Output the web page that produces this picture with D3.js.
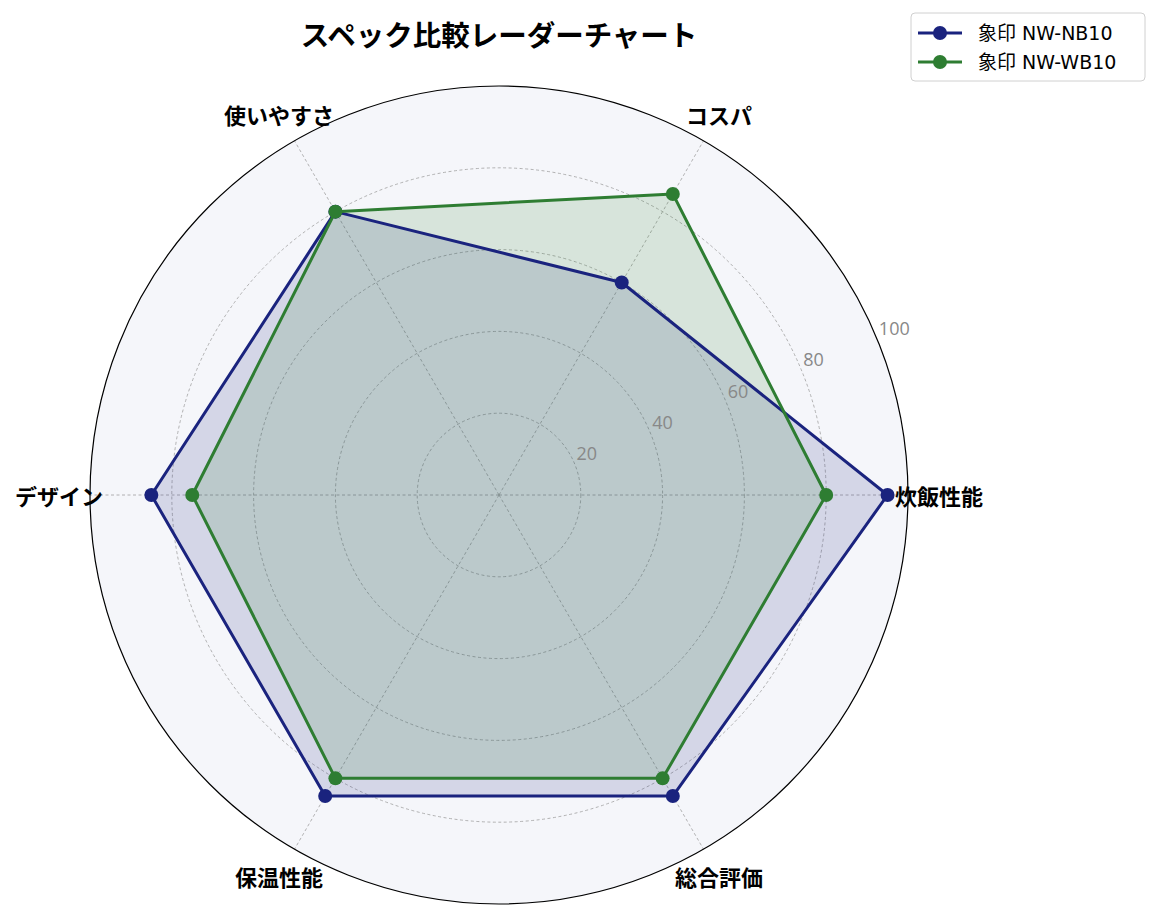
<!DOCTYPE html>
<html>
<head>
<meta charset="UTF-8">
<title>スペック比較レーダーチャート</title>
<script src="https://cdn.jsdelivr.net/npm/d3@7"></script>
<style>
  body { margin: 0; background: #ffffff; }
  text { font-family: "Noto Sans CJK JP", "Noto Sans", sans-serif; }
</style>
</head>
<body>
<svg id="chart" width="1159" height="920"></svg>
<script>
// categories, counter-clockwise from the right
var categories = ["炊飯性能", "コスパ", "使いやすさ", "デザイン", "保温性能", "総合評価"];
var seriesNames = ["象印 NW-NB10", "象印 NW-WB10"];
var nb10Values = [95, 60, 80, 85, 85, 85];
var wb10Values = [80, 85, 80, 75, 80, 80];
var seriesColors = ["#1a237e", "#2e7d32"];
var radialTicks = [20, 40, 60, 80, 100];

var svg = d3.select("#chart");
var cx = 499, cy = 495, radius = 409;

var r = d3.scaleLinear().domain([0, 100]).range([0, radius]);
var angle = d3.scaleLinear().domain([0, categories.length]).range([0, 2 * Math.PI]);

// point for value v on axis i (angle measured counter-clockwise from the right)
var pt = function (i, v) {
    var a = angle(i);
    return [cx + r(v) * Math.cos(a), cy - r(v) * Math.sin(a)];
};

// background of the polar area
svg.append("circle")
    .attr("cx", cx).attr("cy", cy).attr("r", radius)
    .attr("fill", "#f5f6fa");

// grid rings
svg.selectAll("circle.ring")
    .data(radialTicks.slice(0, -1))
    .enter().append("circle")
    .attr("class", "ring")
    .attr("cx", cx).attr("cy", cy)
    .attr("r", function (d) { return r(d); })
    .attr("fill", "none")
    .attr("stroke", "#a0a0a0")
    .attr("stroke-width", 0.8)
    .attr("stroke-dasharray", "3,2.5");

// spokes
svg.selectAll("line.spoke")
    .data(categories)
    .enter().append("line")
    .attr("class", "spoke")
    .attr("x1", cx).attr("y1", cy)
    .attr("x2", function (d, i) { return pt(i, 100)[0]; })
    .attr("y2", function (d, i) { return pt(i, 100)[1]; })
    .attr("stroke", "#a0a0a0")
    .attr("stroke-width", 0.8)
    .attr("stroke-dasharray", "3,2.5");

// series
var allSeries = [nb10Values, wb10Values];
var line = d3.line()
    .x(function (d, i) { return pt(i, d)[0]; })
    .y(function (d, i) { return pt(i, d)[1]; })
    .curve(d3.curveLinearClosed);

allSeries.forEach(function (values, s) {
    svg.append("path")
        .attr("d", line(values))
        .attr("fill", seriesColors[s])
        .attr("fill-opacity", 0.15)
        .attr("stroke", "none");
});

allSeries.forEach(function (values, s) {
    var g = svg.append("g").attr("class", "series-line");
    g.append("path")
        .attr("d", line(values))
        .attr("fill", "none")
        .attr("stroke", seriesColors[s])
        .attr("stroke-width", 3)
        .attr("stroke-linejoin", "round");
    g.selectAll("circle")
        .data(values)
        .enter().append("circle")
        .attr("cx", function (d, i) { return pt(i, d)[0]; })
        .attr("cy", function (d, i) { return pt(i, d)[1]; })
        .attr("r", 7)
        .attr("fill", seriesColors[s]);
});

// outer spine
svg.append("circle")
    .attr("cx", cx).attr("cy", cy).attr("r", radius)
    .attr("fill", "none")
    .attr("stroke", "#000")
    .attr("stroke-width", 1.2);

// radial tick labels (at 22.5 degrees)
var labelAngle = 22.5 * Math.PI / 180;
svg.selectAll("text.rtick")
    .data(radialTicks)
    .enter().append("text")
    .attr("class", "rtick")
    .attr("x", function (d) { return cx + r(d) * Math.cos(labelAngle) + 2; })
    .attr("y", function (d) { return cy - r(d) * Math.sin(labelAngle) - 10.5; })
    .attr("text-anchor", "start")
    .attr("dominant-baseline", "central")
    .attr("font-size", 18)
    .style("font-family", "'Open Sans', 'Noto Sans', sans-serif")
    .attr("fill", "#888888")
    .text(function (d) { return d; });

// category labels
svg.selectAll("text.cat")
    .data(categories)
    .enter().append("text")
    .attr("class", "cat")
    .attr("x", function (d, i) { return cx + 440 * Math.cos(angle(i)); })
    .attr("y", function (d, i) { return cy - 440 * Math.sin(angle(i)); })
    .attr("text-anchor", "middle")
    .attr("dominant-baseline", "central")
    .attr("font-size", 22)
    .attr("font-weight", "bold")
    .attr("fill", "#000")
    .text(function (d) { return d; });

// title
svg.append("text")
    .attr("x", cx).attr("y", 33)
    .attr("text-anchor", "middle")
    .attr("dominant-baseline", "central")
    .attr("font-size", 28.5)
    .attr("font-weight", "bold")
    .text("スペック比較レーダーチャート");

// legend
var legend = svg.append("g").attr("transform", "translate(911,13)");
legend.append("rect")
    .attr("x", 0).attr("y", 0)
    .attr("width", 234).attr("height", 68)
    .attr("rx", 4)
    .attr("fill", "#fff")
    .attr("stroke", "#d0d0d0")
    .attr("stroke-width", 1);
seriesNames.forEach(function (name, s) {
    var y = 20 + s * 29;
    legend.append("line")
        .attr("x1", 7).attr("x2", 51)
        .attr("y1", y).attr("y2", y)
        .attr("stroke", seriesColors[s])
        .attr("stroke-width", 3);
    legend.append("circle")
        .attr("cx", 29).attr("cy", y).attr("r", 7)
        .attr("fill", seriesColors[s]);
    legend.append("text")
        .attr("x", 67).attr("y", y)
        .attr("dominant-baseline", "central")
        .attr("font-size", 19)
        .style("font-family", "'DejaVu Sans', 'Noto Sans CJK JP', sans-serif")
        .attr("fill", "#000")
        .text(name);
});
</script>
</body>
</html>
